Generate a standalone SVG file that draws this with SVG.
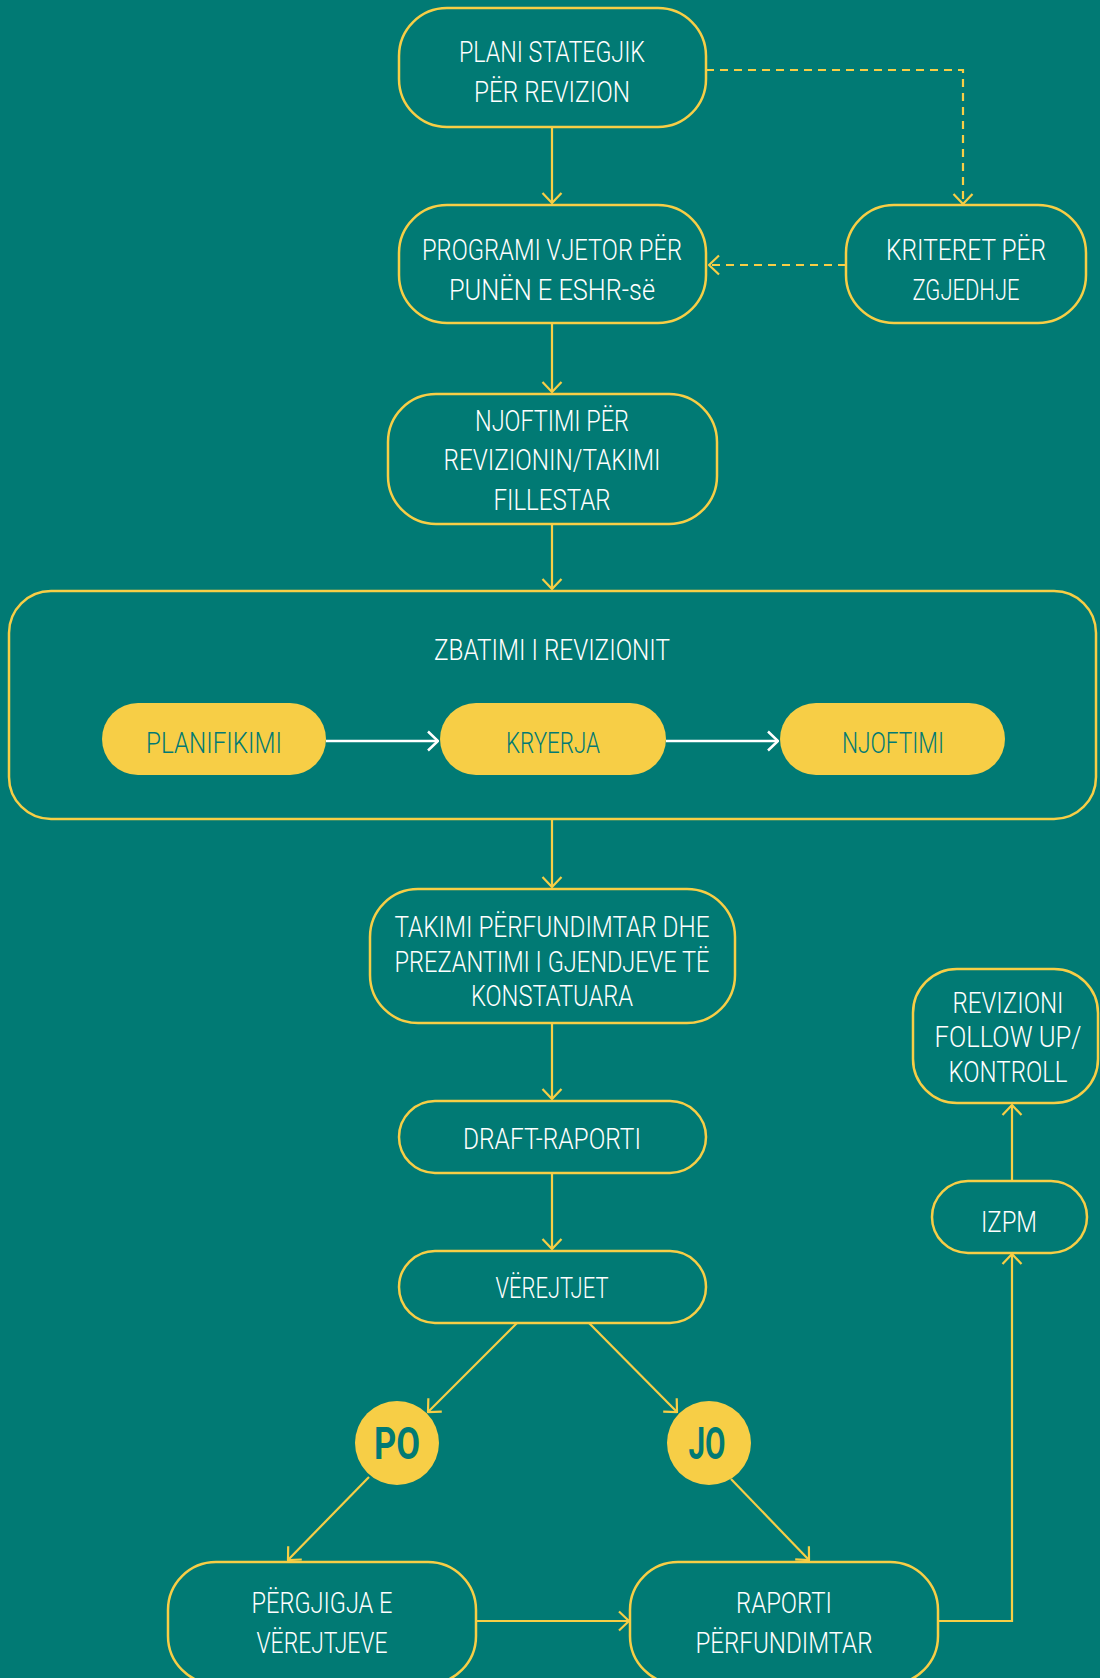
<svg xmlns="http://www.w3.org/2000/svg" width="1100" height="1678" viewBox="0 0 1100 1678">
<style>
.box{fill:none;stroke:#F7CE46;stroke-width:2.5}
.pill{fill:#F7CE46;stroke:none}
.t{font-family:Roboto,"Liberation Sans Narrow","DejaVu Sans Condensed",sans-serif;font-weight:300;font-size:30px;fill:#FFFFFF;text-anchor:middle}
.tp{font-family:Roboto,"Liberation Sans Narrow","DejaVu Sans Condensed",sans-serif;font-weight:300;font-size:30px;fill:#017A74;text-anchor:middle}
.tb{font-family:Roboto,"Liberation Sans Narrow","DejaVu Sans Condensed",sans-serif;font-size:45px;font-weight:bold;fill:#017A74;text-anchor:middle}
.c{fill:none;stroke:#F7CE46;stroke-width:2.2}
.d{fill:none;stroke:#F7CE46;stroke-width:2.2;stroke-dasharray:8 6}
.w{fill:none;stroke:#FFFFFF;stroke-width:2.5}
</style>
<defs>
<marker id="ay" viewBox="0 0 12 22" refX="11" refY="11" markerWidth="12" markerHeight="22" markerUnits="userSpaceOnUse" orient="auto">
<path d="M1,1.5 L11,11 L1,20.5" fill="none" stroke="#F7CE46" stroke-width="2.2"/>
</marker>
<marker id="aw" viewBox="0 0 12 22" refX="11" refY="11" markerWidth="12" markerHeight="22" markerUnits="userSpaceOnUse" orient="auto">
<path d="M1,1.5 L11,11 L1,20.5" fill="none" stroke="#FFFFFF" stroke-width="2.5"/>
</marker>
</defs>
<rect x="0" y="0" width="1100" height="1678" fill="#017A74"/>

<g id="connectors">
<line class="c" x1="552" y1="127" x2="552" y2="203" marker-end="url(#ay)"/>
<line class="c" x1="552" y1="323" x2="552" y2="392" marker-end="url(#ay)"/>
<line class="c" x1="552" y1="524" x2="552" y2="589" marker-end="url(#ay)"/>
<line class="c" x1="552" y1="819" x2="552" y2="887" marker-end="url(#ay)"/>
<line class="c" x1="552" y1="1023" x2="552" y2="1099" marker-end="url(#ay)"/>
<line class="c" x1="552" y1="1173" x2="552" y2="1249" marker-end="url(#ay)"/>
<polyline class="d" points="706,70 963,70 963,204" marker-end="url(#ay)"/>
<line class="d" x1="846" y1="265" x2="709" y2="265" marker-end="url(#ay)"/>
<line class="w" x1="326" y1="741" x2="438" y2="741" marker-end="url(#aw)"/>
<line class="w" x1="666" y1="741" x2="778" y2="741" marker-end="url(#aw)"/>
<line class="c" x1="517" y1="1323" x2="428" y2="1412" marker-end="url(#ay)"/>
<line class="c" x1="589" y1="1323" x2="677" y2="1412" marker-end="url(#ay)"/>
<line class="c" x1="369" y1="1477" x2="288" y2="1560" marker-end="url(#ay)"/>
<line class="c" x1="731" y1="1479" x2="809" y2="1560" marker-end="url(#ay)"/>
<line class="c" x1="476" y1="1621" x2="629" y2="1621" marker-end="url(#ay)"/>
<polyline class="c" points="938,1621 1012,1621 1012,1254" marker-end="url(#ay)"/>
<line class="c" x1="1012" y1="1181" x2="1012" y2="1105" marker-end="url(#ay)"/>
</g>

<g id="plani">
<rect class="box" x="399" y="8" width="307" height="119" rx="48"/>
<text class="t" x="552" y="62" textLength="186" lengthAdjust="spacingAndGlyphs">PLANI STATEGJIK</text>
<text class="t" x="552" y="102" textLength="156" lengthAdjust="spacingAndGlyphs">PËR REVIZION</text>
</g>
<g id="programi">
<rect class="box" x="399" y="205" width="307" height="118" rx="48"/>
<text class="t" x="552" y="260" textLength="260" lengthAdjust="spacingAndGlyphs">PROGRAMI VJETOR PËR</text>
<text class="t" x="552" y="300" textLength="206" lengthAdjust="spacingAndGlyphs">PUNËN E ESHR-së</text>
</g>
<g id="kriteret">
<rect class="box" x="846" y="205" width="240" height="118" rx="48"/>
<text class="t" x="966" y="260" textLength="160" lengthAdjust="spacingAndGlyphs">KRITERET PËR</text>
<text class="t" x="966" y="300" textLength="107" lengthAdjust="spacingAndGlyphs">ZGJEDHJE</text>
</g>
<g id="njoftimi-per">
<rect class="box" x="388" y="394" width="329" height="130" rx="48"/>
<text class="t" x="552" y="431" textLength="154" lengthAdjust="spacingAndGlyphs">NJOFTIMI PËR</text>
<text class="t" x="552" y="470" textLength="217" lengthAdjust="spacingAndGlyphs">REVIZIONIN/TAKIMI</text>
<text class="t" x="552" y="510" textLength="117" lengthAdjust="spacingAndGlyphs">FILLESTAR</text>
</g>
<g id="zbatimi">
<rect class="box" x="9" y="591" width="1087" height="228" rx="42"/>
<text class="t" x="552" y="660" textLength="236" lengthAdjust="spacingAndGlyphs">ZBATIMI I REVIZIONIT</text>
</g>
<g id="planifikimi">
<rect class="pill" x="102" y="703" width="224" height="72" rx="36"/>
<text class="tp" x="214" y="753" textLength="136" lengthAdjust="spacingAndGlyphs">PLANIFIKIMI</text>
</g>
<g id="kryerja">
<rect class="pill" x="440" y="703" width="226" height="72" rx="36"/>
<text class="tp" x="553" y="753" textLength="94" lengthAdjust="spacingAndGlyphs">KRYERJA</text>
</g>
<g id="njoftimi">
<rect class="pill" x="780" y="703" width="225" height="72" rx="36"/>
<text class="tp" x="893" y="753" textLength="102" lengthAdjust="spacingAndGlyphs">NJOFTIMI</text>
</g>
<g id="takimi">
<rect class="box" x="370" y="889" width="365" height="134" rx="48"/>
<text class="t" x="552" y="937" textLength="315" lengthAdjust="spacingAndGlyphs">TAKIMI PËRFUNDIMTAR DHE</text>
<text class="t" x="552" y="972" textLength="315" lengthAdjust="spacingAndGlyphs">PREZANTIMI I GJENDJEVE TË</text>
<text class="t" x="552" y="1006" textLength="162" lengthAdjust="spacingAndGlyphs">KONSTATUARA</text>
</g>
<g id="draft">
<rect class="box" x="399" y="1101" width="307" height="72" rx="36"/>
<text class="t" x="552" y="1149" textLength="178" lengthAdjust="spacingAndGlyphs">DRAFT-RAPORTI</text>
</g>
<g id="verejtjet">
<rect class="box" x="399" y="1251" width="307" height="72" rx="36"/>
<text class="t" x="552" y="1298" textLength="113" lengthAdjust="spacingAndGlyphs">VËREJTJET</text>
</g>
<g id="po">
<circle cx="397" cy="1443" r="42" fill="#F7CE46"/>
<text class="tb" x="397" y="1459" textLength="46" lengthAdjust="spacingAndGlyphs">PO</text>
</g>
<g id="jo">
<circle cx="709" cy="1443" r="42" fill="#F7CE46"/>
<text class="tb" x="707" y="1459" textLength="37" lengthAdjust="spacingAndGlyphs">JO</text>
</g>
<g id="pergjigja">
<rect class="box" x="168" y="1562" width="308" height="122" rx="48"/>
<text class="t" x="322" y="1613" textLength="141" lengthAdjust="spacingAndGlyphs">PËRGJIGJA E</text>
<text class="t" x="322" y="1653" textLength="131" lengthAdjust="spacingAndGlyphs">VËREJTJEVE</text>
</g>
<g id="raporti">
<rect class="box" x="630" y="1562" width="308" height="122" rx="48"/>
<text class="t" x="784" y="1613" textLength="96" lengthAdjust="spacingAndGlyphs">RAPORTI</text>
<text class="t" x="784" y="1653" textLength="177" lengthAdjust="spacingAndGlyphs">PËRFUNDIMTAR</text>
</g>
<g id="izpm">
<rect class="box" x="932" y="1181" width="155" height="72" rx="36"/>
<text class="t" x="1009" y="1232" textLength="56" lengthAdjust="spacingAndGlyphs">IZPM</text>
</g>
<g id="revizioni">
<rect class="box" x="913" y="969" width="185" height="134" rx="44"/>
<text class="t" x="1008" y="1013" textLength="111" lengthAdjust="spacingAndGlyphs">REVIZIONI</text>
<text class="t" x="1008" y="1047" textLength="147" lengthAdjust="spacingAndGlyphs">FOLLOW UP/</text>
<text class="t" x="1008" y="1082" textLength="119" lengthAdjust="spacingAndGlyphs">KONTROLL</text>
</g>
</svg>
